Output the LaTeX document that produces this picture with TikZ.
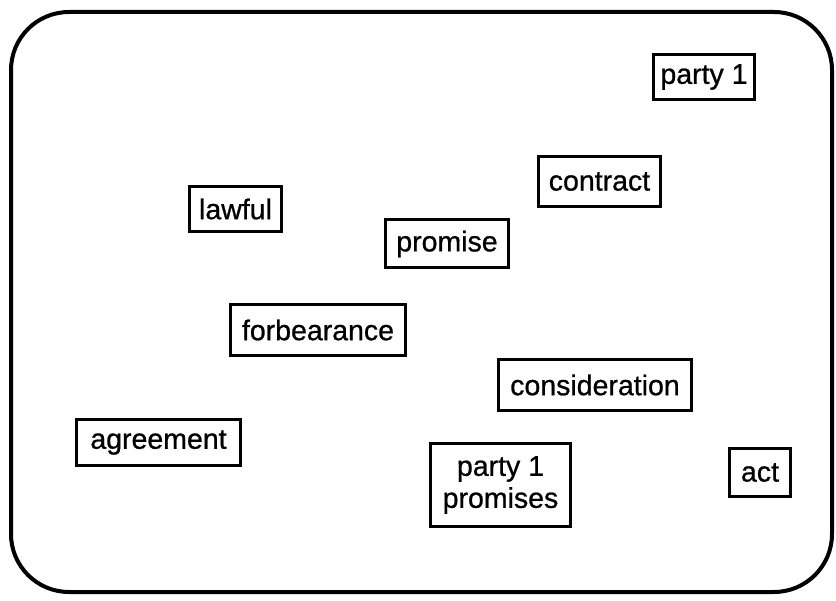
\documentclass[tikz,border=0pt]{standalone}
\usepackage{fontspec}
\setmainfont{Liberation Sans}[FakeBold=0.8]
\begin{document}
\begin{tikzpicture}[x=1pt,y=-1pt,
  concept/.style={draw=black, line width=3pt, fill=white, inner sep=0pt,
    align=center, font=\fontsize{28.5}{32}\selectfont},
  frame/.style={draw=black, line width=4pt, rounded corners=58pt}]
\useasboundingbox (0,0) rectangle (836,601);
% outer rounded frame
\draw[frame] (11,12) rectangle (832,592);
% concept boxes
\node[concept, minimum width=101pt, minimum height=45pt] (party1) at (704,77) {party 1};
\node[concept, minimum width=122pt, minimum height=50pt] (contract) at (599.5,181.5) {contract};
\node[concept, minimum width=92pt,  minimum height=45pt] (lawful) at (235.5,209) {lawful};
\node[concept, minimum width=123pt, minimum height=48pt] (promise) at (447,244) {promise};
\node[concept, minimum width=175pt, minimum height=51pt] (forbearance) at (318,330) {forbearance};
\node[concept, minimum width=193pt, minimum height=51pt] (consideration) at (595,385) {consideration};
\node[concept, minimum width=164pt, minimum height=46pt] (agreement) at (158.5,442.5) {agreement};
\node[concept, minimum width=140pt, minimum height=83pt] (promises) at (500.5,485) {party 1\\promises};
\node[concept, minimum width=61pt,  minimum height=48pt] (act) at (760,472.5) {act};
\end{tikzpicture}
\end{document}
